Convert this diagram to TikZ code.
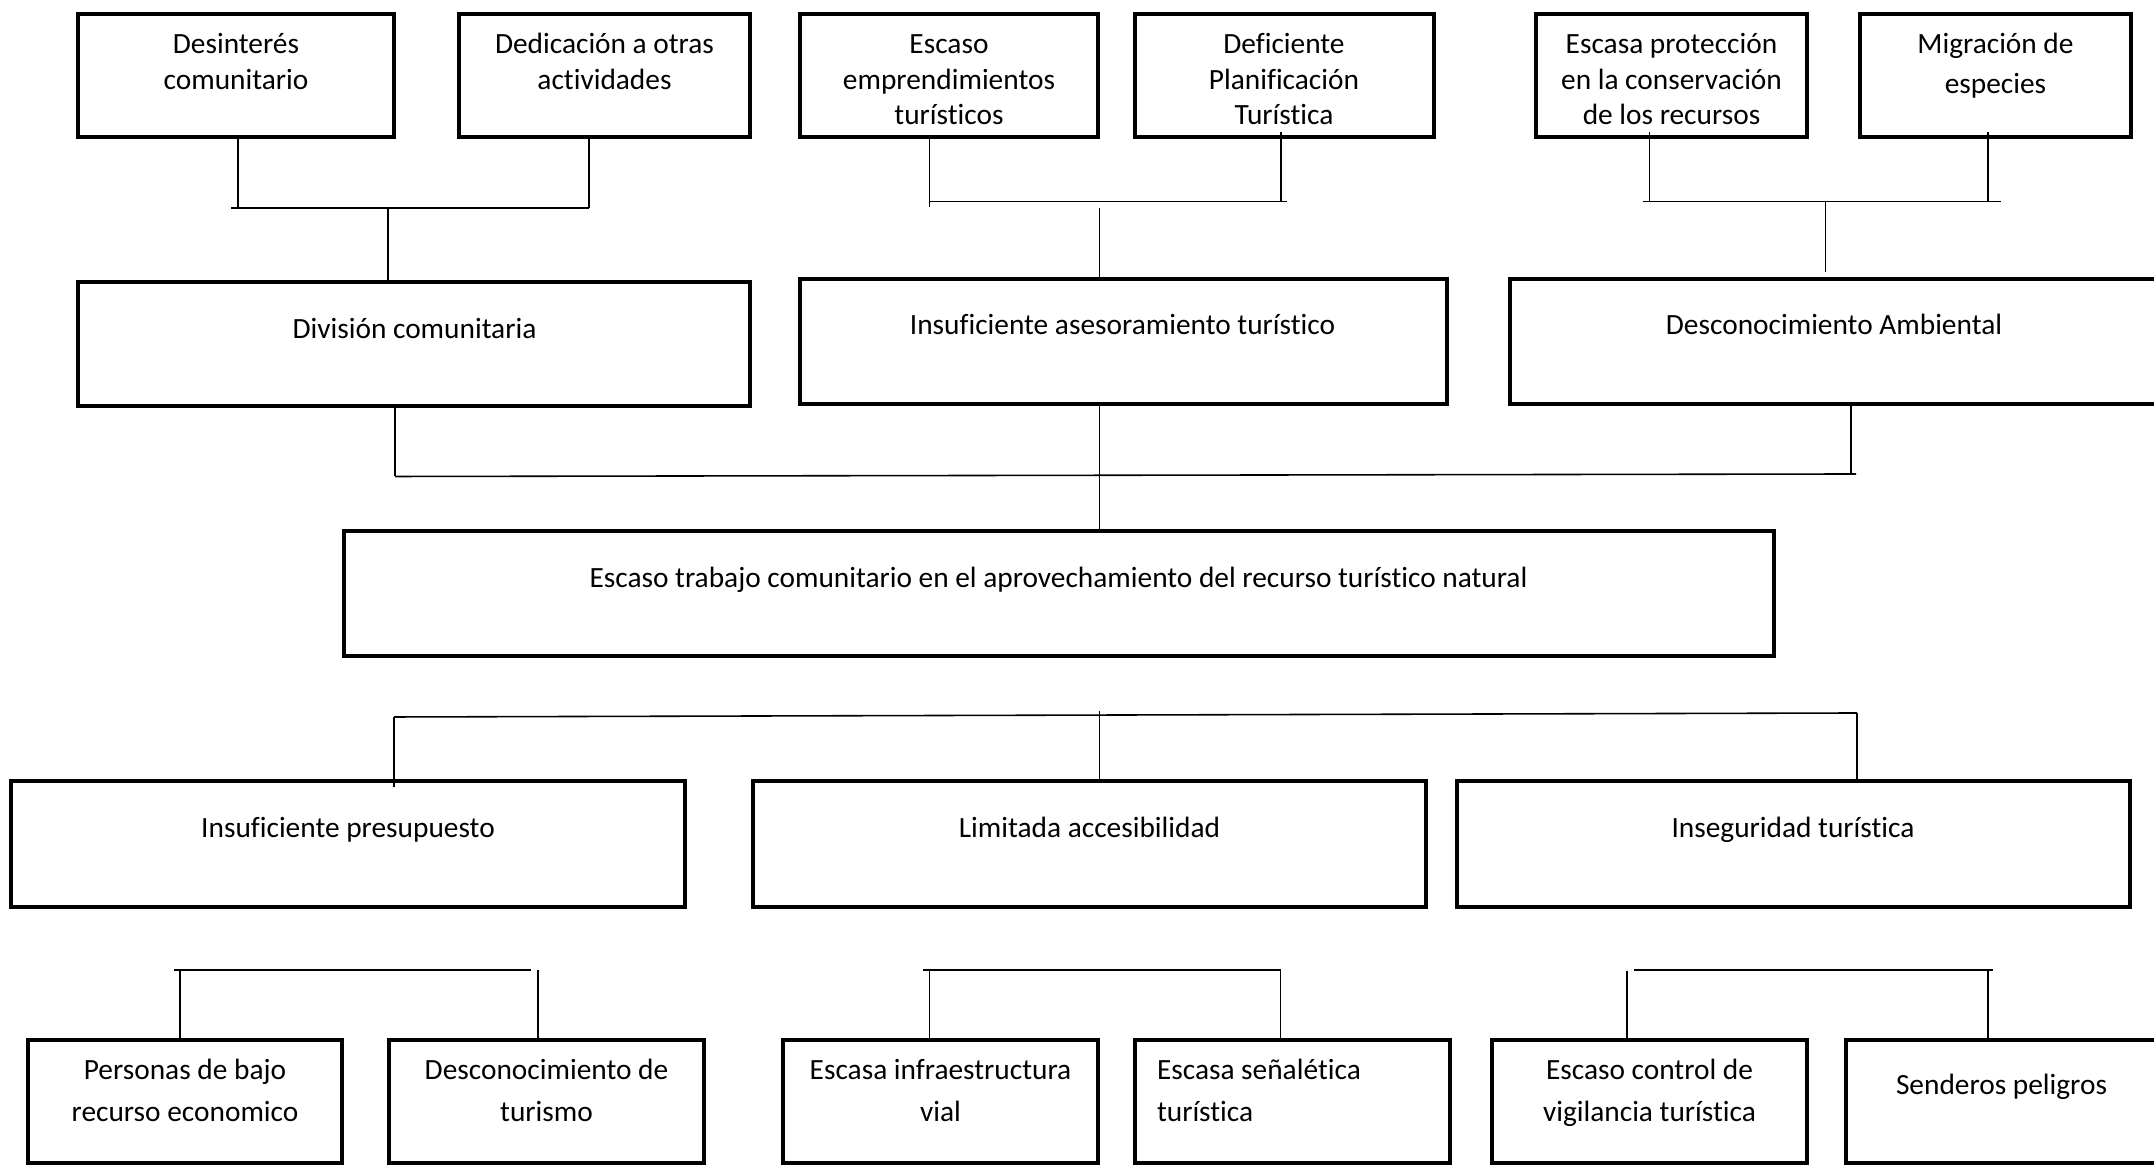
\documentclass[tikz,border=0pt]{standalone}
\usepackage{fontspec}
\setmainfont{Carlito}[Ligatures={NoCommon,NoContextual}]
\usetikzlibrary{calc}
\tikzset{
  box/.style={draw=black, line width=1.35pt, rectangle, inner sep=0pt, outer sep=0pt, fill=none},
  conn/.style={draw=black, line width=0.45pt},
  lbl/.style={inner sep=0pt, outer sep=0pt, font=\fontsize{8.35pt}{10pt}\selectfont, anchor=base},
  lblw/.style={lbl, anchor=base west}
}
\newcommand{\mkbox}[5]{%
  \pgfmathsetmacro{\mybw}{(#4-#2)*0.01}%
  \pgfmathsetmacro{\mybh}{(#5-#3)*0.01}%
  \node[box, minimum width=\mybw cm, minimum height=\mybh cm] (#1) at ({(#2+#4)/2},{(#3+#5)/2}) {};}
\begin{document}
\begin{tikzpicture}[x=0.01cm, y=-0.01cm]
\useasboundingbox (0,0) rectangle (2154,1165);
\clip (0,0) rectangle (2154,1165);
\fill[white] (0,0) rectangle (2154,1165);

% ---------- boxes ----------
\mkbox{b1}{78}{14}{394}{137}
\mkbox{b2}{459}{14}{750}{137}
\mkbox{b3}{800}{14}{1098}{137}
\mkbox{b4}{1135}{14}{1434}{137}
\mkbox{b5}{1536}{14}{1807}{137}
\mkbox{b6}{1860}{14}{2131}{137}
\mkbox{d1}{78}{282}{750}{406}
\mkbox{a2}{800}{279}{1447}{404}
\mkbox{a3}{1510}{279}{2162}{404}
\mkbox{c}{344}{531}{1774}{656}
\mkbox{r1}{11}{781}{685}{907}
\mkbox{r2}{753}{781}{1426}{907}
\mkbox{r3}{1457}{781}{2130}{907}
\mkbox{p1}{28}{1040}{342}{1163}
\mkbox{p2}{389}{1040}{704}{1163}
\mkbox{p3}{783}{1040}{1098}{1163}
\mkbox{p4}{1135}{1040}{1450}{1163}
\mkbox{p5}{1492}{1040}{1807}{1163}
\mkbox{p6}{1846}{1040}{2162}{1163}

% ---------- texts ----------
\node[lbl] (t1a) at (236,54) {Desinterés};
\node[lbl] (t1b) at (236,90) {comunitario};
\node[lbl] (t2a) at (604.5,54) {Dedicación a otras};
\node[lbl] (t2b) at (604.5,90) {actividades};
\node[lbl] (t3a) at (949,54) {Escaso};
\node[lbl] (t3b) at (949,89.5) {emprendimientos};
\node[lbl] (t3c) at (949,125) {turísticos};
\node[lbl] (t4a) at (1284,54) {Deficiente};
\node[lbl] (t4b) at (1284,89.5) {Planificación};
\node[lbl] (t4c) at (1284,125) {Turística};
\node[lbl] (t5a) at (1671.5,54) {Escasa protección};
\node[lbl] (t5b) at (1671.5,89.5) {en la conservación};
\node[lbl] (t5c) at (1671.5,125) {de los recursos};
\node[lbl] (t6a) at (1995.5,54) {Migración de};
\node[lbl] (t6b) at (1995.5,94) {especies};

\node[lbl] (td1) at (414.5,339) {División comunitaria};
\node[lbl] (ta2) at (1122.5,335) {Insuficiente asesoramiento turístico};
\node[lbl] (ta3) at (1834,335) {Desconocimiento Ambiental};

\node[lbl] (tc) at (1058.5,588) {Escaso trabajo comunitario en el aprovechamiento del recurso turístico natural};

\node[lbl] (tr1) at (348,838) {Insuficiente presupuesto};
\node[lbl] (tr2) at (1089.5,838) {Limitada accesibilidad};
\node[lbl] (tr3) at (1793,838) {Inseguridad turística};

\node[lbl] (tp1a) at (185,1080) {Personas de bajo};
\node[lbl] (tp1b) at (185,1122) {recurso economico};
\node[lbl] (tp2a) at (546.5,1080) {Desconocimiento de};
\node[lbl] (tp2b) at (546.5,1122) {turismo};
\node[lbl] (tp3a) at (940.5,1080) {Escasa infraestructura};
\node[lbl] (tp3b) at (940.5,1122) {vial};
\node[lblw] (tp4a) at (1157,1080) {Escasa señalética};
\node[lblw] (tp4b) at (1157,1122) {turística};
\node[lbl] (tp5a) at (1649.5,1080) {Escaso control de};
\node[lbl] (tp5b) at (1649.5,1122) {vigilancia turística};
\node[lbl] (tp6) at (2001.5,1095) {Senderos peligros};

% ---------- connectors: row 1 -> row 2 ----------
% group 1
\coordinate (g1a) at (238,208);
\coordinate (g1b) at (589,208);
\coordinate (g1l) at (231,208);
\coordinate (g1m) at (388,208);
\draw[conn] (g1a |- b1.south) -- (g1a);
\draw[conn] (g1b |- b2.south) -- (g1b);
\draw[conn] (g1l) -- (g1b);
\draw[conn] (g1m) -- (g1m |- d1.north);
% group 2
\coordinate (g2a) at (929.5,207);
\coordinate (g2h) at (929.5,201.7);
\coordinate (g2r) at (1287,201.7);
\coordinate (g2b) at (1281,201.7);
\coordinate (g2m) at (1099.5,208);
\draw[conn] (g2a |- b3.south) -- (g2a);
\draw[conn] (g2h) -- (g2r);
\draw[conn] ($(g2b |- b4.south)+(0,-5)$) -- (g2b);
\draw[conn] (g2m) -- (g2m |- a2.north);
% group 3
\coordinate (g3a) at (1649.5,201.5);
\coordinate (g3b) at (1988,201.5);
\coordinate (g3l) at (1643,201.5);
\coordinate (g3r) at (2001,201.5);
\coordinate (g3m) at (1825.5,201.5);
\coordinate (g3e) at (1825.5,272);
\draw[conn] ($(g3a |- b5.south)+(0,-5)$) -- (g3a);
\draw[conn] ($(g3b |- b6.south)+(0,-5)$) -- (g3b);
\draw[conn] (g3l) -- (g3r);
\draw[conn] (g3m) -- (g3e);

% ---------- connectors: row 2 -> central ----------
\coordinate (k1) at (395,476.5);
\coordinate (k2) at (1856,474);
\coordinate (k3) at (1851,474);
\coordinate (k4) at (1099.5,0);
\draw[conn] (k1 |- d1.south) -- (k1);
\draw[conn] (k1) -- (k2);
\draw[conn] (k3 |- a3.south) -- (k3);
\draw[conn] (k4 |- a2.south) -- (k4 |- c.north);

% ---------- connectors: central -> row 3 ----------
\coordinate (m1) at (394,717);
\coordinate (m2) at (1857,713);
\coordinate (m1e) at (394,787);
\coordinate (m3) at (1099.5,711);
\draw[conn] (m1) -- (m2);
\draw[conn] (m1) -- (m1e);
\draw[conn] (m3) -- (m3 |- r2.north);
\draw[conn] (m2) -- (m2 |- r3.north);

% ---------- connectors: row 3 -> row 4 ----------
\coordinate (n1l) at (174,970);
\coordinate (n1r) at (531,970);
\coordinate (n1a) at (180,970);
\coordinate (n1b) at (538,970);
\draw[conn] (n1l) -- (n1r);
\draw[conn] (n1a) -- (n1a |- p1.north);
\draw[conn] (n1b) -- (n1b |- p2.north);

\coordinate (n2l) at (923,970);
\coordinate (n2r) at (1281,970);
\coordinate (n2a) at (929.5,970);
\coordinate (n2b) at (1280.5,970);
\draw[conn] (n2l) -- (n2r);
\draw[conn] (n2a) -- (n2a |- p3.north);
\draw[conn] (n2b) -- (n2b |- p4.north);

\coordinate (n3l) at (1634,970);
\coordinate (n3r) at (1992.5,970);
\coordinate (n3a) at (1627,971);
\coordinate (n3b) at (1988,970);
\draw[conn] (n3l) -- (n3r);
\draw[conn] (n3a) -- (n3a |- p5.north);
\draw[conn] (n3b) -- (n3b |- p6.north);
\end{tikzpicture}
\end{document}
